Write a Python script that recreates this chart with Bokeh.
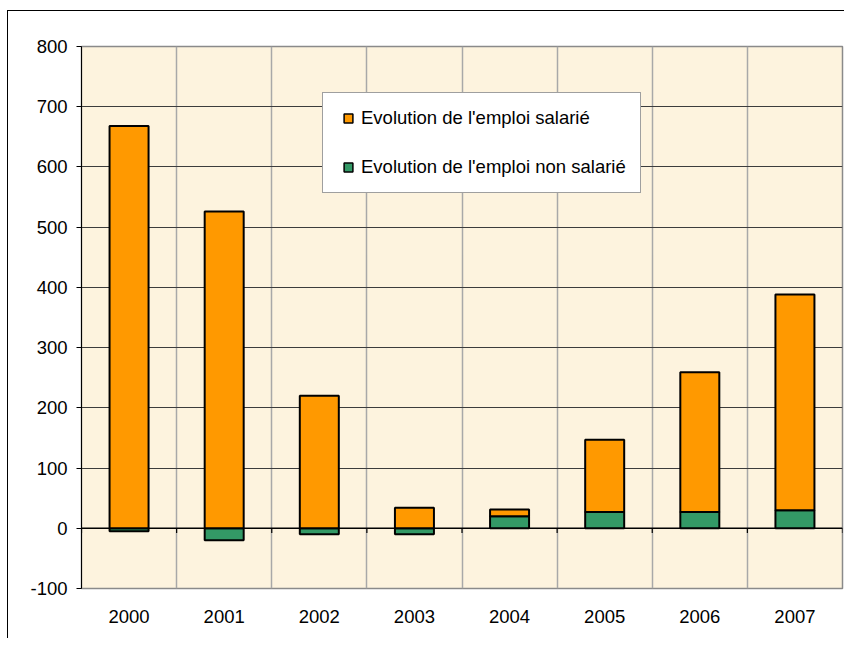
import numpy as np
from bokeh.plotting import figure
from bokeh.models import FixedTicker, Range1d, Span, Legend, LegendItem, ColumnDataSource
from bokeh.embed import file_html
from bokeh.resources import INLINE

years = ["2000", "2001", "2002", "2003", "2004", "2005", "2006", "2007"]
salarie = [668, 526, 220, 34, 11, 120, 232, 358]
non_salarie = [-5, -20, -10, -10, 20, 27, 27, 30]
y_ticks = [-100, 0, 100, 200, 300, 400, 500, 600, 700, 800]

ORANGE = "#FF9900"
GREEN = "#339966"
FONT = "Liberation Sans"

n = len(years)
xs = np.arange(n) + 0.5
ns = np.array(non_salarie, dtype=float)
sal = np.array(salarie, dtype=float)
g_bottom = np.minimum(ns, 0)
g_top = np.maximum(ns, 0)
o_bottom = np.maximum(ns, 0)
o_top = o_bottom + sal

p = figure(width=837, height=628, x_range=Range1d(0, n), y_range=Range1d(y_ticks[0], y_ticks[-1]),
           output_backend="svg", toolbar_location=None,
           min_border_left=73, min_border_right=3, min_border_top=35, min_border_bottom=51)
p.styles = {"border-left": "1px solid black", "border-top": "1px solid black",
            "margin-left": "7px", "margin-top": "10px"}

p.background_fill_color = "#FDF3DE"
p.border_fill_color = "white"
p.outline_line_color = "#8a8a8a"
p.outline_line_width = 1.5

# grids
p.xgrid.ticker = FixedTicker(ticks=list(range(1, n)))
p.xgrid.grid_line_color = "#a8a8a8"
p.xgrid.grid_line_width = 1.5
p.ygrid.ticker = FixedTicker(ticks=y_ticks[1:-1])
p.ygrid.grid_line_color = "#3c3c3c"
p.ygrid.grid_line_width = 1

zero = Span(location=0, dimension="width", line_color="black", line_width=1.5, level="underlay")
p.add_layout(zero)

bounds = np.arange(n + 1)
p.segment(x0=bounds, y0=np.zeros(n + 1), x1=bounds, y1=np.full(n + 1, -8.0),
          line_color="black", line_width=1.2)

src = ColumnDataSource(dict(x=xs, gb=g_bottom, gt=g_top, ob=o_bottom, ot=o_top))
p.vbar(x="x", width=0.41, bottom="gb", top="gt", source=src,
       fill_color=GREEN, line_color="black", line_width=2)
p.vbar(x="x", width=0.41, bottom="ob", top="ot", source=src,
       fill_color=ORANGE, line_color="black", line_width=2)

# axes
p.yaxis.ticker = FixedTicker(ticks=y_ticks)
p.yaxis.major_label_overrides = {t: str(t) for t in y_ticks}
p.yaxis.axis_line_color = "black"
p.yaxis.axis_line_width = 1
p.yaxis.major_tick_out = 5
p.yaxis.major_tick_in = 0
p.yaxis.major_tick_line_color = "black"
p.yaxis.minor_tick_line_color = None
p.yaxis.major_label_standoff = 9
p.yaxis.major_label_text_font = FONT
p.yaxis.major_label_text_font_size = "18.5px"
p.yaxis.major_label_text_color = "black"

p.xaxis.ticker = FixedTicker(ticks=list(xs))
p.xaxis.major_label_overrides = {float(x): y for x, y in zip(xs, years)}
p.xaxis.axis_line_color = None
p.xaxis.major_tick_line_color = None
p.xaxis.minor_tick_line_color = None
p.xaxis.major_label_standoff = 15
p.xaxis.major_label_text_font = FONT
p.xaxis.major_label_text_font_size = "18.5px"
p.xaxis.major_label_text_color = "black"

# legend with marker-only renderers (no visible point in the plot)
empty = ColumnDataSource(dict(x=np.array([np.nan]), y=np.array([np.nan])))
r1 = p.scatter(x="x", y="y", source=empty, marker="square", size=9,
               fill_color=ORANGE, line_color="black", line_width=1.5)
r2 = p.scatter(x="x", y="y", source=empty, marker="square", size=9,
               fill_color=GREEN, line_color="black", line_width=1.5)
legend = Legend(items=[LegendItem(label="Evolution de l'emploi salarié", renderers=[r1], index=0),
                       LegendItem(label="Evolution de l'emploi non salarié", renderers=[r2], index=0)],
                location=(241, 395))
legend.padding = 14
legend.spacing = 27
legend.glyph_width = 22
legend.glyph_height = 22
legend.label_height = 21
legend.label_standoff = 2
legend.margin = 0
legend.border_line_color = "#404040"
legend.border_line_width = 1.5
legend.background_fill_color = "white"
legend.background_fill_alpha = 1
legend.label_text_font = FONT
legend.label_text_font_size = "18.5px"
legend.label_text_color = "black"
p.add_layout(legend)

open("out.html", "w").write(file_html(p, INLINE))
